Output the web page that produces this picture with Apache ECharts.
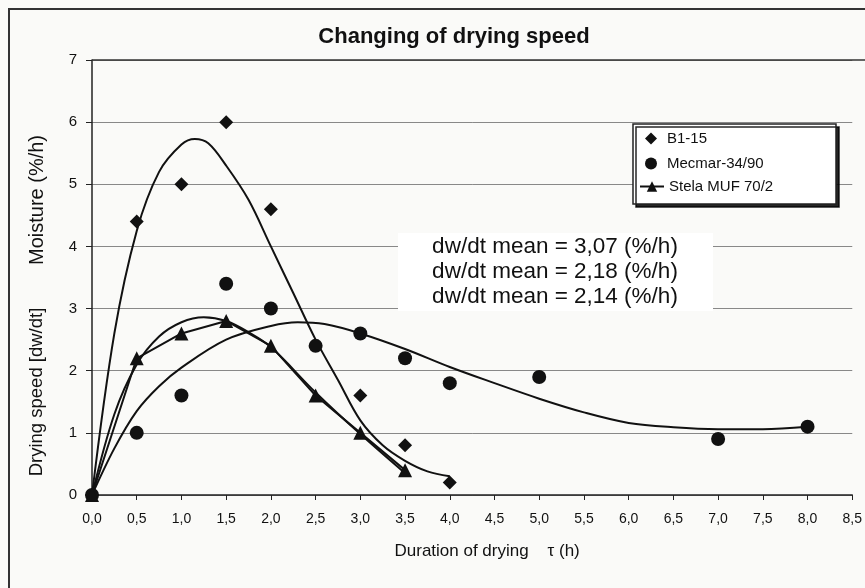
<!DOCTYPE html>
<html>
<head>
<meta charset="utf-8">
<script src="https://cdn.jsdelivr.net/npm/echarts@6/dist/echarts.min.js"></script>
<style>
  html, body { margin: 0; padding: 0; background: #fafaf8; }
  #frame {
    position: absolute; left: 8px; top: 8px;
    width: 870px; height: 590px;
    border-top: 2px solid #333; border-left: 2px solid #333;
  }
  #chart { position: absolute; left: 0; top: 0; width: 865px; height: 588px; }
</style>
</head>
<body>
<div id="frame"></div>
<div id="chart"></div>
<script>
// measured points
const b1X = [0, 0.5, 1.0, 1.5, 2.0, 3.0, 3.5, 4.0];
const b1Y = [0, 4.4, 5.0, 6.0, 4.6, 1.6, 0.8, 0.2];

const mecX = [0, 0.5, 1.0, 1.5, 2.0, 2.5, 3.0, 3.5, 4.0, 5.0, 7.0, 8.0];
const mecY = [0, 1.0, 1.6, 3.4, 3.0, 2.4, 2.6, 2.2, 1.8, 1.9, 0.9, 1.1];

const stelaX = [0, 0.5, 1.0, 1.5, 2.0, 2.5, 3.0, 3.5];
const stelaY = [0, 2.2, 2.6, 2.8, 2.4, 1.6, 1.0, 0.4];

// trend curves
const b1TrendX = [0, 0.25, 0.5, 0.75, 1.0, 1.15, 1.3, 1.5, 1.75, 2.0, 2.25, 2.5, 2.75, 3.0, 3.25, 3.5, 3.75, 4.0];
const b1TrendY = [0, 2.6, 4.25, 5.2, 5.64, 5.73, 5.66, 5.3, 4.75, 4.0, 3.25, 2.5, 1.85, 1.2, 0.8, 0.55, 0.38, 0.3];

const mecTrendX = [0, 0.25, 0.5, 0.75, 1.0, 1.5, 2.0, 2.3, 2.6, 3.0, 3.5, 4.0, 4.5, 5.0, 5.5, 6.0, 6.5, 7.0, 7.5, 8.0];
const mecTrendY = [0, 0.75, 1.35, 1.75, 2.05, 2.5, 2.72, 2.78, 2.75, 2.6, 2.35, 2.06, 1.8, 1.55, 1.33, 1.16, 1.09, 1.06, 1.06, 1.1];

const stelaTrendX = [0, 0.25, 0.5, 0.75, 1.0, 1.25, 1.5, 1.75, 2.0, 2.5, 3.0, 3.5];
const stelaTrendY = [0, 1.3, 2.1, 2.55, 2.78, 2.86, 2.8, 2.62, 2.38, 1.65, 0.98, 0.35];

const meanLines = [
  "dw/dt mean = 3,07 (%/h)",
  "dw/dt mean = 2,18 (%/h)",
  "dw/dt mean = 2,14 (%/h)"
];

const pairs = (xs, ys) => xs.map((x, i) => [x, ys[i]]);
const ink = "#111";
const font = "Liberation Sans, Arial, sans-serif";
const legendText = { fontSize: 15, color: ink, fontFamily: font };

const chart = echarts.init(document.getElementById("chart"));
chart.setOption({
  animation: false,
  textStyle: { fontFamily: font, color: ink },
  title: {
    text: "Changing of drying speed",
    left: 449, top: 21, textAlign: "center",
    textStyle: { fontFamily: "Liberation Sans Narrow, Liberation Sans, Arial", fontSize: 22, fontWeight: "bold", color: ink }
  },
  grid: { left: 92, right: 12, top: 60, bottom: 93 },
  legend: [
    {
      data: ["B1-15", "Mecmar-34/90"],
      orient: "vertical", left: 645, top: 131,
      itemGap: 10, itemWidth: 12, itemHeight: 12,
      padding: 0, textStyle: Object.assign({ padding: [0, 0, 0, 5] }, legendText)
    },
    {
      data: ["Stela MUF 70/2"],
      orient: "vertical", left: 639, top: 179,
      itemWidth: 24, itemHeight: 13,
      padding: 0, textStyle: legendText
    }
  ],
  xAxis: {
    type: "value", min: 0, max: 8.5, interval: 0.5,
    axisLine: { show: true, lineStyle: { color: "#222", width: 1.5 } },
    axisTick: { show: true, length: 5, lineStyle: { color: "#222" } },
    splitLine: { show: false },
    axisLabel: {
      fontSize: 14, color: ink, margin: 17,
      formatter: v => v.toFixed(1).replace(".", ",")
    },
    name: "Duration of drying    \u03c4 (h)",
    nameLocation: "middle", nameGap: 48,
    nameTextStyle: { fontSize: 17, color: ink, padding: [0, 0, 0, 30] }
  },
  yAxis: {
    type: "value", min: 0, max: 7, interval: 1,
    axisLine: { show: true, lineStyle: { color: "#222", width: 1.5 } },
    axisTick: { show: true, length: 6, lineStyle: { color: "#222" } },
    splitLine: { show: true, lineStyle: { color: "#888", width: 1 } },
    axisLabel: { fontSize: 15, color: ink, margin: 15 }
  },
  graphic: [
    { type: "line", shape: { x1: 92, y1: 60, x2: 865, y2: 60 }, style: { stroke: "#333", lineWidth: 1.5 }, z: 5 },
    {
      type: "text", x: 37, y: 392, rotation: Math.PI / 2,
      style: {
        text: "Drying speed [dw/dt]",
        fontSize: 18.5, fontFamily: font, fill: ink,
        textAlign: "center", textVerticalAlign: "middle"
      }
    },
    {
      type: "text", x: 37, y: 200, rotation: Math.PI / 2,
      style: {
        text: "Moisture (%/h)",
        fontSize: 20, fontFamily: font, fill: ink,
        textAlign: "center", textVerticalAlign: "middle"
      }
    },
    {
      type: "rect", shape: { x: 633, y: 124, width: 203, height: 80 },
      style: { fill: "#fff", stroke: "#222", lineWidth: 1.5,
        shadowColor: "rgba(0,0,0,0.85)", shadowOffsetX: 3, shadowOffsetY: 3, shadowBlur: 0 },
      z: 1
    },
    {
      type: "rect", shape: { x: 398, y: 233, width: 315, height: 78 },
      style: { fill: "#fff" }, z: 10
    },
    {
      type: "text", x: 555, y: 272, z: 11,
      style: {
        text: meanLines.join("\n"),
        fontSize: 22.5, fontFamily: font, fill: ink, lineHeight: 25,
        textAlign: "center", textVerticalAlign: "middle"
      }
    }
  ],
  series: [
    {
      name: "B1-15-trend", type: "line", smooth: 0.35, silent: true,
      data: pairs(b1TrendX, b1TrendY), showSymbol: false,
      lineStyle: { color: ink, width: 2 }, z: 2
    },
    {
      name: "Mecmar-trend", type: "line", smooth: 0.35, silent: true,
      data: pairs(mecTrendX, mecTrendY), showSymbol: false,
      lineStyle: { color: ink, width: 2 }, z: 2
    },
    {
      name: "Stela-trend", type: "line", smooth: 0.35, silent: true,
      data: pairs(stelaTrendX, stelaTrendY), showSymbol: false,
      lineStyle: { color: ink, width: 2 }, z: 2
    },
    {
      name: "B1-15", type: "scatter", symbol: "diamond", symbolSize: 14,
      data: pairs(b1X, b1Y), itemStyle: { color: ink, opacity: 1 }, z: 4
    },
    {
      name: "Mecmar-34/90", type: "scatter", symbol: "circle", symbolSize: 14,
      data: pairs(mecX, mecY), itemStyle: { color: ink, opacity: 1 }, z: 4
    },
    {
      name: "Stela MUF 70/2", type: "line", symbol: "triangle", symbolSize: 14,
      showAllSymbol: true,
      data: pairs(stelaX, stelaY), itemStyle: { color: ink, opacity: 1 },
      lineStyle: { color: ink, width: 2 }, z: 4
    }
  ]
});
</script>
</body>
</html>
